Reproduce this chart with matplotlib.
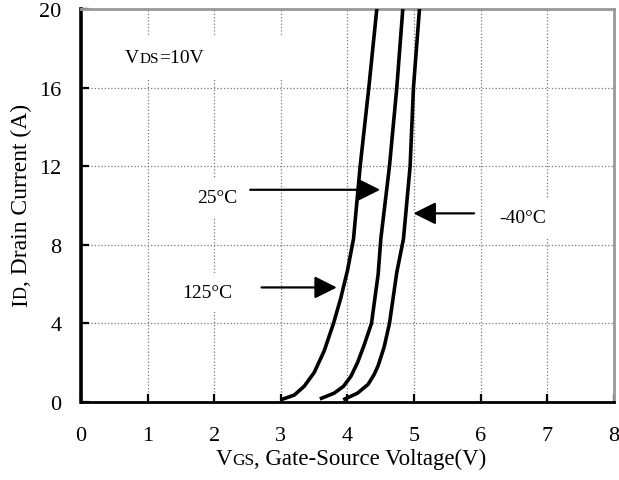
import matplotlib
matplotlib.use('Agg')
import matplotlib.pyplot as plt
from matplotlib.patches import Rectangle
from matplotlib.transforms import IdentityTransform

plt.rcParams['font.family'] = ['Liberation Serif', 'DejaVu Serif']

# transfer characteristics
vgs_125 = [3.03, 3.2, 3.35, 3.5, 3.65, 3.79, 3.9, 4.0, 4.09, 4.19, 4.32, 4.44, 4.47]
id_125 = [0.15, 0.35, 0.8, 1.5, 2.6, 4.0, 5.3, 6.7, 8.3, 12, 16, 20, 21]
vgs_25 = [3.61, 3.8, 3.94, 4.05, 4.15, 4.25, 4.36, 4.46, 4.5, 4.63, 4.74, 4.83, 4.85]
id_25 = [0.19, 0.45, 0.8, 1.3, 2.0, 2.9, 4.0, 6.5, 8.3, 12, 16, 20, 21]
vgs_m40 = [3.96, 4.15, 4.31, 4.4, 4.46, 4.55, 4.63, 4.74, 4.84, 4.94, 4.99, 5.08, 5.1]
id_m40 = [0.15, 0.45, 0.9, 1.4, 1.85, 2.8, 4.0, 6.6, 8.3, 12, 16, 20, 21]

x_ticks = [0, 1, 2, 3, 4, 5, 6, 7, 8]
y_ticks = [0, 4, 8, 12, 16, 20]

# (label, label x, label baseline y, arrow tail, arrow tip)
notes = [
    ('25\u00b0C', 2.04, 10.18, (2.54, 10.8), (4.49, 10.8)),
    ('125\u00b0C', 1.9, 5.34, (2.71, 5.83), (3.84, 5.83)),
    ('-40\u00b0C', 6.63, 9.16, (5.90, 9.6), (4.99, 9.6)),
]


def mixed_text(fig, ax, x, y, parts, rotation=0, align='center'):
    """Draw text made of pieces of different size on one baseline (pixel coords)."""
    r = fig.canvas.get_renderer()
    widths = []
    for s, size in parts:
        t = fig.text(0, 0, s, fontsize=size)
        widths.append(t.get_window_extent(r).width)
        t.remove()
    pos = -sum(widths) / 2 if align == 'center' else 0
    for (s, size), w in zip(parts, widths):
        if rotation == 0:
            px, py = x + pos, y
        else:
            px, py = x, y + pos
        ax.text(px, py, s, fontsize=size, transform=IdentityTransform(),
                ha='left', va='baseline', rotation=rotation,
                rotation_mode='anchor', zorder=4, clip_on=False)
        pos += w


def main():
    fig = plt.figure(figsize=(6.19, 4.81), dpi=100)
    ax = fig.add_axes([81 / 619, 78 / 481, 533 / 619, 393 / 481])

    ax.plot(vgs_125, id_125, color='black', lw=2.6, zorder=3)
    ax.plot(vgs_25, id_25, color='black', lw=2.6, zorder=3)
    ax.plot(vgs_m40, id_m40, color='black', lw=2.6, zorder=3)

    ax.set_xlim(0, 8)
    ax.set_ylim(0, 20)
    ax.set_xticks(x_ticks)
    ax.set_yticks(y_ticks)
    ax.tick_params(direction='in', length=6, width=1.6, labelsize=16,
                   top=False, right=False)
    ax.tick_params(axis='y', pad=14)
    ax.tick_params(axis='x', pad=17)
    ax.grid(True, linestyle=':', color='#777777', lw=0.9)

    for side in ['top', 'right']:
        ax.spines[side].set_color('#999999')
        ax.spines[side].set_linewidth(2)
    ax.spines['left'].set_linewidth(2.6)
    ax.spines['bottom'].set_linewidth(2)

    for label, lx, ly, tail, tip in notes:
        ax.text(lx, ly, label, fontsize=14, ha='center', va='baseline', zorder=4,
                bbox=dict(boxstyle='square,pad=0.55', fc='white', ec='none'))
        ax.annotate('', xy=tip, xytext=tail, zorder=4,
                    arrowprops=dict(arrowstyle='-|>', color='black', lw=1.6,
                                    mutation_scale=34, shrinkA=0, shrinkB=0))

    # white box behind the test condition
    ax.add_patch(Rectangle((0.45, 16.4), 2.8, 2.3, fc='white', ec='none', zorder=1.6))

    fig.canvas.draw()
    tx, ty = ax.transData.transform((0.66, 17.3))
    mixed_text(fig, ax, tx, ty, [('V', 14), ('DS', 11), ('=10V', 14)], align='left')

    # axis labels with small-caps subscripts
    mixed_text(fig, ax, 351, 481 - 465,
               [('V', 16.5), ('GS', 12.5), (', Gate-Source Voltage(V)', 16.5)])
    mixed_text(fig, ax, 27, 481 - 205,
               [('I', 17), ('D', 13), (', Drain Current (A)', 17)], rotation=90)

    fig.savefig('out.png', dpi=100)
    plt.close(fig)


if __name__ == '__main__':
    main()
